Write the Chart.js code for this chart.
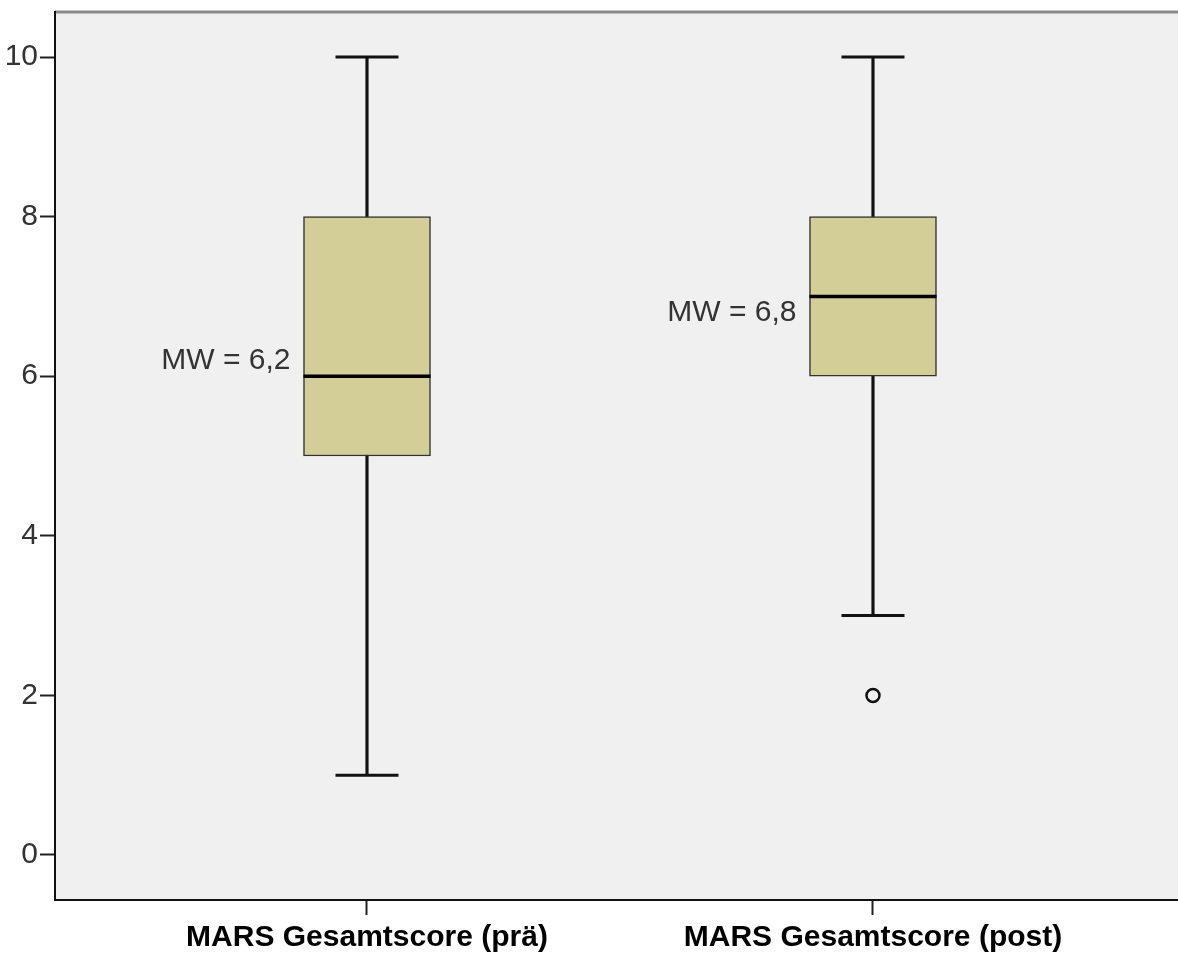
<!DOCTYPE html>
<html>
<head>
<meta charset="utf-8">
<script src="https://cdn.jsdelivr.net/npm/chart.js@4"></script>
<style>
  html, body { margin: 0; padding: 0; background: #fff; }
  #wrap { width: 1178px; height: 953px; }
</style>
</head>
<body>
<div id="wrap"><canvas id="box-chart" width="1178" height="953"></canvas></div>
<script>
// Kategorien und Boxplot-Kennwerte
const categories = ['MARS Gesamtscore (prä)', 'MARS Gesamtscore (post)'];
const whiskerLow = [1, 3];
const quartile1 = [5, 6];
const medians = [6, 7];
const quartile3 = [8, 8];
const whiskerHigh = [10, 10];
const means = [6.2, 6.8];
const outliers = [[], [2]];
const yTickValues = [0, 2, 4, 6, 8, 10];

const BOX_WIDTH = 127;
const positions = categories.map((c, i) => i + 1);

const whiskerData = positions.map((x, i) => ({ x: x, y: [whiskerLow[i], whiskerHigh[i]] }));
const boxData = positions.map((x, i) => ({ x: x, y: [quartile1[i], quartile3[i]] }));
const medianData = positions.map((x, i) => ({ x: x, y: medians[i] }));
const capData = [];
positions.forEach((x, i) => {
    capData.push({ x: x, y: whiskerHigh[i] });
    capData.push({ x: x, y: whiskerLow[i] });
});
const outlierData = [];
positions.forEach((x, i) => outliers[i].forEach(v => outlierData.push({ x: x, y: v })));

// Hintergrund der Zeichenfläche und graue Linie oben
const plotBackground = {
    id: 'plotBackground',
    beforeDraw(chart) {
        const { ctx, chartArea: a } = chart;
        ctx.save();
        ctx.fillStyle = '#f0f0f0';
        ctx.fillRect(a.left, a.top, a.right - a.left, a.bottom - a.top);
        ctx.strokeStyle = '#8a8a8a';
        ctx.lineWidth = 3;
        ctx.beginPath();
        ctx.moveTo(a.left, a.top);
        ctx.lineTo(a.right, a.top);
        ctx.stroke();
        ctx.restore();
    }
};

// Mittelwert-Beschriftung links neben jeder Box
const meanLabels = {
    id: 'meanLabels',
    afterDatasetsDraw(chart) {
        const { ctx, scales } = chart;
        ctx.save();
        ctx.font = '30px "Liberation Sans", Arial, sans-serif';
        ctx.fillStyle = '#333';
        ctx.textAlign = 'right';
        ctx.textBaseline = 'middle';
        positions.forEach((x, i) => {
            const px = scales.x.getPixelForValue(x) - BOX_WIDTH / 2 - 13;
            const py = scales.y.getPixelForValue(means[i]);
            ctx.fillText('MW = ' + means[i].toFixed(1).replace('.', ','), px, py);
        });
        ctx.restore();
    }
};

const ctx = document.getElementById('box-chart').getContext('2d');
new Chart(ctx, {
    data: {
        datasets: [
            {
                type: 'scatter',
                data: outlierData,
                order: 1,
                pointStyle: 'circle',
                pointRadius: 6.5,
                pointBorderWidth: 2.5,
                pointBorderColor: '#111',
                pointBackgroundColor: 'rgba(0,0,0,0)'
            },
            {
                type: 'scatter',
                data: medianData,
                order: 2,
                pointStyle: 'line',
                pointRadius: BOX_WIDTH / 2,
                pointBorderWidth: 3.5,
                pointBorderColor: '#000'
            },
            {
                type: 'scatter',
                data: capData,
                order: 3,
                pointStyle: 'line',
                pointRadius: 31.5,
                pointBorderWidth: 3,
                pointBorderColor: '#111'
            },
            {
                type: 'bar',
                data: boxData,
                order: 4,
                grouped: false,
                barThickness: BOX_WIDTH,
                backgroundColor: '#d3ce98',
                borderColor: '#333',
                borderWidth: 1.5,
                borderSkipped: false
            },
            {
                type: 'bar',
                data: whiskerData,
                order: 5,
                grouped: false,
                barThickness: 2.5,
                backgroundColor: '#111',
                borderWidth: 0
            }
        ]
    },
    options: {
        responsive: false,
        animation: false,
        layout: { autoPadding: false, padding: { top: 12, right: 0, left: 0, bottom: 0 } },
        plugins: {
            legend: { display: false },
            tooltip: { enabled: false }
        },
        scales: {
            x: {
                type: 'linear',
                min: 0.3834,
                max: 2.6028,
                offset: false,
                afterBuildTicks(scale) {
                    scale.ticks = positions.map(v => ({ value: v }));
                },
                afterFit(scale) {
                    scale.height = 53;
                    scale.paddingLeft = 0;
                    scale.paddingRight = 0;
                },
                ticks: {
                    callback: (v) => categories[v - 1] || '',
                    color: '#000',
                    padding: 5,
                    maxRotation: 0,
                    autoSkip: false,
                    font: { family: '"Liberation Sans", Arial, sans-serif', size: 30, weight: 'bold' }
                },
                grid: { offset: false, drawOnChartArea: false, tickLength: 15, tickWidth: 2, tickColor: '#222' },
                border: { display: true, color: '#111', width: 2 }
            },
            y: {
                type: 'linear',
                min: -0.564,
                max: 10.564,
                afterBuildTicks(scale) {
                    scale.ticks = yTickValues.map(v => ({ value: v }));
                },
                afterFit(scale) {
                    scale.width = 55;
                    scale.paddingTop = 0;
                    scale.paddingBottom = 0;
                },
                ticks: {
                    color: '#333',
                    padding: 2,
                    font: { family: '"Liberation Sans", Arial, sans-serif', size: 30 }
                },
                grid: { drawOnChartArea: false, tickLength: 15, tickWidth: 2, tickColor: '#222' },
                border: { display: true, color: '#111', width: 2 }
            }
        }
    },
    plugins: [plotBackground, meanLabels]
});
</script>
</body>
</html>
